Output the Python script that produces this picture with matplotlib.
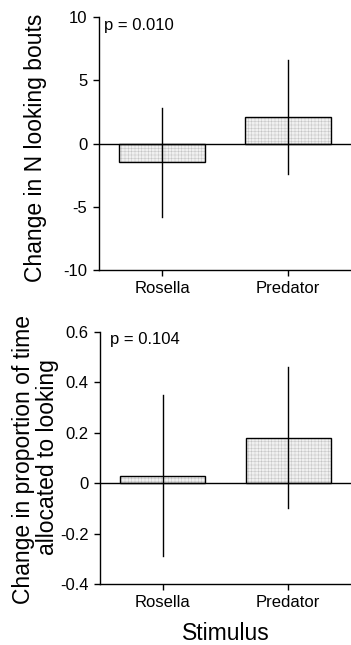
import matplotlib
matplotlib.use("Agg")
import matplotlib.pyplot as plt
import numpy as np

plt.rcParams['font.family'] = ['Liberation Sans', 'DejaVu Sans']
plt.rcParams['hatch.linewidth'] = 0.35

categories = ["Rosella", "Predator"]
bouts_mean = [-1.5, 2.1]
bouts_upper = [2.8, 6.6]
bouts_lower = [-5.8, -2.4]
prop_mean = [0.03, 0.18]
prop_upper = [0.35, 0.46]
prop_lower = [-0.29, -0.10]
bouts_ticks = [-10, -5, 0, 5, 10]
bouts_ticklabels = ["-10", "-5", "0", "5", "10"]
prop_ticks = [-0.4, -0.2, 0, 0.2, 0.4, 0.6]
prop_ticklabels = ["-0.4", "-0.2", "0", "0.2", "0.4", "0.6"]
p_top = "p = 0.010"
p_bottom = "p = 0.104"

W, H = 351, 645
fig = plt.figure(figsize=(W / 100, H / 100), dpi=100)

def px(l, t, r, b):
    return [l / W, 1 - b / H, (r - l) / W, (b - t) / H]

def ftext(x, y, s, **kw):
    fig.text(x / W, 1 - y / H, s, **kw)

ax1 = fig.add_axes(px(99, 17, 351, 270))
ax2 = fig.add_axes(px(100, 332, 351, 584))

TICK_FS = 12
LABEL_FS = 16.5

def draw(ax, mean, lo, hi, ticks, ticklabels, ylim):
    x = np.arange(len(categories))
    ax.bar(x, mean, width=0.675, color='#f0f0f0', edgecolor='#c4c4c4',
           hatch='+++++', linewidth=0, zorder=2)
    ax.bar(x, mean, width=0.675, fill=False, edgecolor='black',
           linewidth=1.0, zorder=3)
    for xi, l, h in zip(x, lo, hi):
        ax.plot([xi, xi], [l, h], color='black', linewidth=1.0, zorder=4)
    ax.axhline(0, color='black', linewidth=1.0, zorder=4)
    ax.set_xlim(-0.5, 1.5)
    ax.set_ylim(*ylim)
    ax.set_yticks(ticks)
    ax.set_yticklabels(ticklabels)
    ax.set_xticks(x)
    ax.set_xticklabels(categories)
    for s in ['top', 'right']:
        ax.spines[s].set_visible(False)
    for s in ['left', 'bottom']:
        ax.spines[s].set_linewidth(1.0)
    ax.tick_params(axis='both', direction='out', length=4.3, width=1.0,
                   labelsize=TICK_FS)
    ax.tick_params(axis='y', pad=4.0)
    ax.tick_params(axis='x', pad=3.5)

draw(ax1, bouts_mean, bouts_lower, bouts_upper, bouts_ticks,
     bouts_ticklabels, (-10, 10))
draw(ax2, prop_mean, prop_lower, prop_upper, prop_ticks,
     prop_ticklabels, (-0.4, 0.6))

ftext(104, 30, p_top, fontsize=TICK_FS, ha='left', va='baseline')
ftext(110, 344, p_bottom, fontsize=TICK_FS, ha='left', va='baseline')

ftext(36, 147.5, "Change in N looking bouts", fontsize=LABEL_FS,
      rotation=90, ha='center', va='center')
ftext(24, 460, "Change in proportion of time", fontsize=LABEL_FS,
      rotation=90, ha='center', va='center')
ftext(47.5, 457, "allocated to looking", fontsize=LABEL_FS,
      rotation=90, ha='center', va='center')
ftext(226, 640, "Stimulus", fontsize=LABEL_FS, ha='center', va='baseline')

fig.savefig("out.png", dpi=100)
